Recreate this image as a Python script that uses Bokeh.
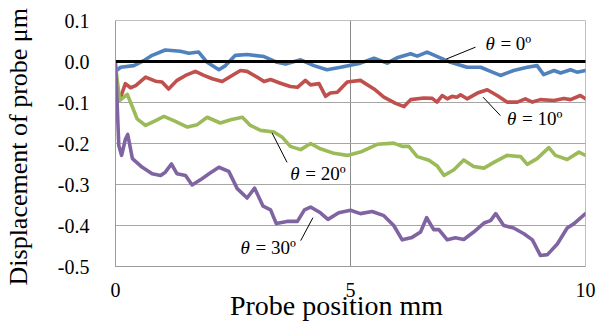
import math
from bokeh.plotting import figure
from bokeh.models import FixedTicker, PrintfTickFormatter
from bokeh.core.properties import value
from bokeh.embed import file_html
from bokeh.resources import INLINE

# ---- data ----
x_ticks = [0, 5, 10]
y_ticks = [0.1, 0.0, -0.1, -0.2, -0.3, -0.4, -0.5]

blue_x = [0.02, 0.11, 0.39, 0.60, 0.78, 1.06, 1.38, 1.56, 1.77, 1.95, 2.20, 2.34, 2.55, 2.80, 3.16,
          3.44, 3.62, 3.94, 4.22, 4.50, 4.79, 5.00, 5.21, 5.50, 5.78, 5.99, 6.28, 6.42, 6.63, 6.91,
          7.13, 7.48, 7.77, 7.98, 8.19, 8.47, 8.76, 8.97, 9.11, 9.33, 9.47, 9.68, 9.82, 10.0]
blue_y = [-0.022, -0.014, -0.010, 0.002, 0.015, 0.028, 0.025, 0.020, 0.023, -0.002, -0.020, -0.010,
          0.015, 0.017, 0.012, -0.002, -0.006, 0.004, -0.010, -0.020, -0.014, -0.009, -0.004, 0.008,
          -0.004, 0.009, 0.019, 0.013, 0.023, 0.009, -0.002, -0.014, -0.014, -0.024, -0.034, -0.022,
          -0.014, -0.010, -0.032, -0.022, -0.028, -0.020, -0.026, -0.022]

red_x = [0.05, 0.11, 0.21, 0.32, 0.43, 0.64, 0.85, 0.99, 1.13, 1.31, 1.49, 1.70, 1.88, 2.06, 2.27,
         2.48, 2.66, 2.80, 3.01, 3.16, 3.30, 3.51, 3.72, 3.87, 4.04, 4.15, 4.33, 4.47, 4.57, 4.72,
         4.93, 5.21, 5.50, 5.71, 5.96, 6.14, 6.28, 6.56, 6.74, 6.84, 6.95, 7.06, 7.16, 7.27, 7.34,
         7.48, 7.70, 7.91, 8.12, 8.33, 8.55, 8.72, 8.87, 9.04, 9.33, 9.54, 9.68, 9.89, 10.0]
red_y = [-0.095, -0.087, -0.054, -0.064, -0.059, -0.038, -0.048, -0.050, -0.067, -0.046, -0.034,
         -0.024, -0.034, -0.042, -0.049, -0.034, -0.022, -0.024, -0.038, -0.049, -0.044, -0.053,
         -0.061, -0.063, -0.046, -0.057, -0.054, -0.085, -0.077, -0.075, -0.050, -0.046, -0.067,
         -0.087, -0.102, -0.110, -0.093, -0.089, -0.090, -0.099, -0.083, -0.091, -0.085, -0.087,
         -0.081, -0.091, -0.077, -0.069, -0.083, -0.099, -0.099, -0.091, -0.099, -0.093, -0.095,
         -0.090, -0.093, -0.083, -0.091]

green_x = [0.0, 0.09, 0.18, 0.25, 0.36, 0.46, 0.64, 0.82, 1.03, 1.24, 1.53, 1.74, 1.95, 2.23, 2.45,
           2.70, 2.87, 3.09, 3.37, 3.55, 3.72, 3.94, 4.15, 4.36, 4.65, 4.93, 5.21, 5.57, 5.92, 6.10,
           6.24, 6.42, 6.67, 6.84, 6.99, 7.20, 7.41, 7.62, 7.84, 8.05, 8.33, 8.62, 8.76, 8.97, 9.22,
           9.36, 9.61, 9.86, 10.0]
green_y = [-0.010, -0.095, -0.087, -0.080, -0.111, -0.140, -0.156, -0.146, -0.134, -0.144, -0.160,
           -0.154, -0.136, -0.150, -0.142, -0.136, -0.156, -0.168, -0.172, -0.185, -0.207, -0.215,
           -0.200, -0.213, -0.224, -0.229, -0.221, -0.202, -0.199, -0.207, -0.207, -0.232, -0.241,
           -0.254, -0.278, -0.264, -0.240, -0.256, -0.260, -0.246, -0.229, -0.232, -0.251, -0.237,
           -0.210, -0.229, -0.239, -0.221, -0.229]

purple_x = [0.0, 0.07, 0.13, 0.21, 0.26, 0.36, 0.57, 0.78, 0.96, 1.06, 1.19, 1.31, 1.49, 1.63, 1.84,
            1.99, 2.20, 2.41, 2.59, 2.80, 2.96, 3.14, 3.30, 3.42, 3.65, 3.87, 4.02, 4.15, 4.36, 4.52,
            4.75, 5.00, 5.21, 5.46, 5.71, 5.92, 6.10, 6.31, 6.49, 6.62, 6.77, 6.88, 7.06, 7.23, 7.41,
            7.62, 7.84, 7.98, 8.09, 8.26, 8.47, 8.69, 8.87, 9.04, 9.19, 9.40, 9.61, 9.75, 10.0]
purple_y = [0.0, -0.205, -0.229, -0.190, -0.178, -0.237, -0.258, -0.274, -0.278, -0.270, -0.250,
            -0.274, -0.278, -0.301, -0.286, -0.274, -0.258, -0.268, -0.310, -0.333, -0.309, -0.353,
            -0.362, -0.395, -0.390, -0.390, -0.362, -0.355, -0.369, -0.385, -0.369, -0.363, -0.371,
            -0.366, -0.376, -0.400, -0.435, -0.429, -0.416, -0.381, -0.410, -0.410, -0.435, -0.430,
            -0.434, -0.416, -0.394, -0.388, -0.371, -0.400, -0.406, -0.420, -0.435, -0.473, -0.471,
            -0.445, -0.406, -0.396, -0.371]

zero_x = [0.0, 10.04]
zero_y = [0.0, 0.0]

# annotation labels
ann_theta = ["θ", "θ", "θ", "θ"]
ann_rest = ["= 0º", "= 10º", "= 20º", "= 30º"]
ann_x = [7.87, 8.33, 3.72, 2.66]
ann_y = [0.044, -0.139, -0.273, -0.453]
lead_x0 = [7.04, 7.82, 3.33, 4.20]
lead_y0 = [0.006, -0.087, -0.174, -0.381]
lead_x1 = [7.66, 8.19, 3.65, 3.94]
lead_y1 = [0.035, -0.132, -0.246, -0.437]

x_title = "Probe position mm"
y_title = "Displacement of probe μm"

colors = ["#4F81BD", "#C0504D", "#9BBB59", "#8064A2"]
FONT = "'Liberation Serif', 'Times New Roman', serif"
NBSP = "\u00a0"

p = figure(width=608, height=324, x_range=(0, 10), y_range=(-0.5, 0.1),
           output_backend="svg", toolbar_location=None,
           min_border_left=115, min_border_right=23, min_border_top=20, min_border_bottom=58)
p.background_fill_color = "white"
p.border_fill_color = "white"
p.outline_line_color = "#bfbfbf"
p.outline_line_width = 1

# axes
p.xaxis.ticker = FixedTicker(ticks=x_ticks)
p.yaxis.ticker = FixedTicker(ticks=y_ticks)
p.yaxis.formatter = PrintfTickFormatter(format="%.1f")
p.axis.major_tick_out = 0
p.axis.major_tick_in = 0
p.axis.minor_tick_out = 0
p.axis.minor_tick_in = 0
p.axis.axis_line_color = "#9a9a9a"
p.axis.major_label_text_font = FONT
p.axis.major_label_text_font_style = "normal"
p.axis.major_label_text_font_size = "20px"
p.axis.major_label_text_color = "black"
p.axis.axis_label_text_font = FONT
p.axis.axis_label_text_font_style = "normal"
p.axis.axis_label_text_color = "black"
p.yaxis.major_label_standoff = 26
p.xaxis.major_label_standoff = 16
# trailing no-break spaces shift the centred titles the way the reference sits
p.xaxis.axis_label = x_title + NBSP * 4
p.xaxis.axis_label_text_font_size = "28px"
p.xaxis.axis_label_standoff = -10
p.yaxis.axis_label = y_title + NBSP
p.yaxis.axis_label_text_font_size = "26px"
p.yaxis.axis_label_standoff = 22

p.xgrid.ticker = FixedTicker(ticks=[5])
p.xgrid.grid_line_color = "#8c8c8c"
p.ygrid.ticker = FixedTicker(ticks=y_ticks)
p.ygrid.grid_line_color = "#a6a6a6"

# curves
for xs, ys, c in ((blue_x, blue_y, colors[0]), (red_x, red_y, colors[1]),
                  (green_x, green_y, colors[2]), (purple_x, purple_y, colors[3])):
    p.line(xs, ys, line_color=c, line_width=3.6, line_join="round", line_cap="round")

p.line(zero_x, zero_y, line_color="black", line_width=3)

# annotations
p.segment(x0=lead_x0, y0=lead_y0, x1=lead_x1, y1=lead_y1, line_color="black", line_width=1)
p.text(x=ann_x, y=ann_y, text=ann_theta, text_font=value(FONT), text_font_size="19px",
       text_font_style="italic", text_baseline="middle", text_align="left", text_color="black")
p.text(x=ann_x, y=ann_y, text=ann_rest, text_font=value(FONT), text_font_size="19px",
       text_baseline="middle", text_align="left", text_color="black", x_offset=15)

open("out.html", "w").write(file_html(p, INLINE))
